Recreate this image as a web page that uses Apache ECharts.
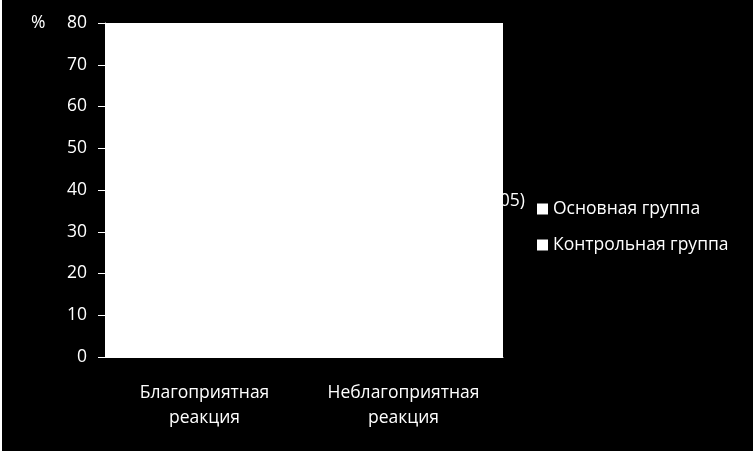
<!DOCTYPE html>
<html>
<head>
<meta charset="utf-8">
<script src="https://cdn.jsdelivr.net/npm/echarts@6/dist/echarts.min.js"></script>
<style>
    html, body { margin: 0; padding: 0; background: #000; }
    #chart { width: 753px; height: 451px; }
</style>
</head>
<body>
<div id="chart"></div>
<script>
;
(function () {
    'use strict';

    var categories = ['Благоприятная\nреакция', 'Неблагоприятная\nреакция'];
    var seriesNames = ['Основная группа', 'Контрольная группа'];
    // столбцы в оригинале белые на белом фоне и не видны
    var mainGroup = [68, 32];
    var controlGroup = [42, 58];
    var yTicks = {min: 0, max: 80, step: 10};
    var noteText = '(p<0,05)';

    var font = 'Open Sans';
    var fs = 17.5;
    var _view = echarts.init(document.getElementById('chart'));

    _view.setOption({
        backgroundColor: '#000',
        animation: false,
        textStyle: {fontFamily: font},
        grid: {
            left: 105, right: 250, top: 23, bottom: 94,
            show: true, backgroundColor: '#fff', borderWidth: 0
        },
        legend: {
            orient: 'vertical',
            left: 532, top: 194,
            itemWidth: 11, itemHeight: 11, itemGap: 16,
            icon: 'rect',
            textStyle: {color: '#fff', fontSize: fs, lineHeight: 20, fontFamily: font},
            data: seriesNames
        },
        xAxis: {
            type: 'category',
            data: categories,
            axisLine: {show: true, lineStyle: {color: '#fff'}},
            axisTick: {show: false},
            axisLabel: {color: '#fff', fontSize: fs, lineHeight: 25, margin: 24, interval: 0}
        },
        yAxis: {
            type: 'value',
            min: yTicks.min, max: yTicks.max, interval: yTicks.step,
            axisLine: {show: true, lineStyle: {color: '#fff'}},
            axisTick: {show: true, length: 7, lineStyle: {color: '#fff'}},
            splitLine: {show: false},
            axisLabel: {color: '#fff', fontSize: fs, margin: 18}
        },
        graphic: [
            {type: 'text', left: 31, top: 14, style: {text: '%', fill: '#fff', fontSize: fs, fontFamily: font}},
            {type: 'text', right: 228, top: 192, z: -1, style: {text: noteText, fill: '#fff', fontSize: fs, fontFamily: font}},
            {type: 'rect', shape: {x: 0, y: 0, width: 2, height: 451}, style: {fill: '#fff'}}
        ],
        series: [
            {name: seriesNames[0], type: 'bar', data: mainGroup, itemStyle: {color: '#fff'}, barGap: '20%', barWidth: 60},
            {name: seriesNames[1], type: 'bar', data: controlGroup, itemStyle: {color: '#fff'}, barWidth: 60}
        ]
    });
})();
</script>
</body>
</html>
